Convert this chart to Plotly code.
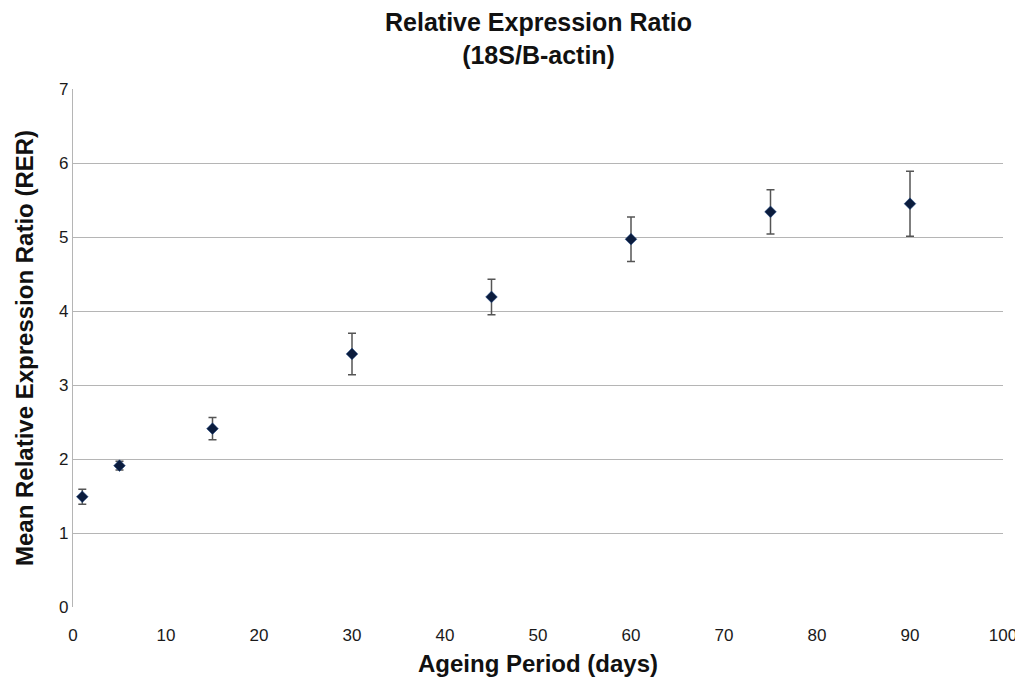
import plotly.graph_objects as go

days = [1, 5, 15, 30, 45, 60, 75, 90]
rer = [1.49, 1.91, 2.41, 3.42, 4.19, 4.97, 5.34, 5.45]
err = [0.10, 0.06, 0.15, 0.28, 0.24, 0.30, 0.30, 0.44]

x_ticks = [0, 10, 20, 30, 40, 50, 60, 70, 80, 90, 100]
y_ticks = [0, 1, 2, 3, 4, 5, 6, 7]

title_lines = ["Relative Expression Ratio", "(18S/B-actin)"]

FONT = "Liberation Sans Narrow, Liberation Sans, Arial, sans-serif"

# page body has an 8px default margin -> margins compensate
L, R, T, B = 65, 28, 81, 87
H = 686
plot_h = H - T - B

fig = go.Figure()
fig.add_trace(go.Scatter(
    x=days, y=rer, mode="markers",
    marker=dict(symbol="diamond", size=9, color="#0b1c3d",
                line=dict(width=0.5, color="#1f4a8a")),
    error_y=dict(type="data", array=err, visible=True, color="#555555",
                 thickness=1.5, width=4),
    showlegend=False,
))

fig.add_annotation(
    text="<b>" + "<br>".join(title_lines) + "</b>", xref="paper", yref="paper",
    x=0.5, y=(H - B - 30.5) / plot_h, xanchor="center", yanchor="middle",
    showarrow=False, font=dict(family=FONT, size=25, color="#111111"),
)

fig.update_layout(
    width=1023, height=686,
    paper_bgcolor="white", plot_bgcolor="white",
    margin=dict(l=L, r=R, t=T, b=B),
    font=dict(family=FONT, color="#222222"),
)
fig.update_xaxes(
    range=[0, 100], tickvals=x_ticks, showgrid=False, zeroline=False,
    showline=False, ticks="outside", ticklen=13, tickcolor="rgba(0,0,0,0)",
    tickfont=dict(size=17, color="#1a1a1a"),
    title=dict(text="<b>Ageing Period (days)</b>", font=dict(size=24, color="#111111"), standoff=10),
)
fig.update_yaxes(
    range=[0, 7], tickvals=y_ticks, showgrid=True, gridcolor="#b5b5b5", gridwidth=1.2,
    zeroline=False, showline=True, linecolor="#b5b5b5", linewidth=1.2, ticks="",
    tickfont=dict(size=17, color="#1a1a1a"),
    title=dict(text="<b>Mean Relative Expression Ratio (RER)</b>", font=dict(size=24, color="#111111"), standoff=18),
)

fig.write_html("out.html")
